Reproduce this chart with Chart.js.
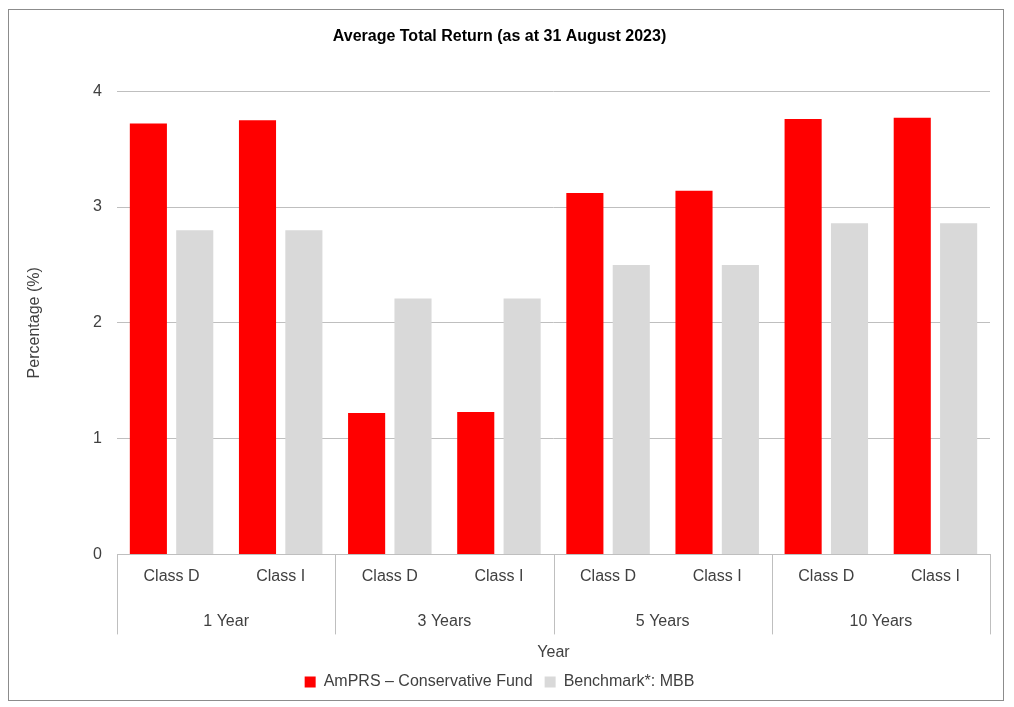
<!DOCTYPE html>
<html>
<head>
<meta charset="utf-8">
<script src="https://cdn.jsdelivr.net/npm/chart.js@4.4.0/dist/chart.umd.min.js"></script>
<style>
  body { margin: 0; background: #fff; }
  #wrap {
    position: absolute; left: 8px; top: 9px;
    width: 994px; height: 690px;
    border: 1px solid #8c8c8c;
  }
</style>
</head>
<body>
<div id="wrap"><canvas id="returnChart"></canvas></div>
<script>
// Chart data
const classes = ['Class D', 'Class I', 'Class D', 'Class I', 'Class D', 'Class I', 'Class D', 'Class I'];
const periods = ['1 Year', '3 Years', '5 Years', '10 Years'];
const fundReturns = [3.72, 3.75, 1.22, 1.23, 3.12, 3.14, 3.76, 3.77];
const benchmarkReturns = [2.80, 2.80, 2.21, 2.21, 2.50, 2.50, 2.86, 2.86];

const textColor = '#404040';
const lineColor = '#bfbfbf';
Chart.defaults.font.family = '"Liberation Sans", Arial, sans-serif';
Chart.defaults.font.size = 16;
Chart.defaults.color = textColor;

// vertical separators between the period groups, below the x axis
const groupLines = {
    id: 'groupLines',
    afterDraw(chart) {
        const x = chart.scales.x;
        const ctx = chart.ctx;
        const step = x.width / classes.length;
        ctx.save();
        ctx.strokeStyle = lineColor;
        ctx.lineWidth = 1;
        for (let g = 0; g <= periods.length; g++) {
            const px = Math.round(x.left + g * step * 2) + 0.5;
            ctx.beginPath();
            ctx.moveTo(px, x.top);
            ctx.lineTo(px, x.top + 80);
            ctx.stroke();
        }
        ctx.restore();
    }
};

const ctx = document.getElementById('returnChart').getContext('2d');
new Chart(ctx, {
    type: 'bar',
    data: {
        labels: classes,
        datasets: [
            {
                label: 'AmPRS \u2013 Conservative Fund',
                data: fundReturns,
                backgroundColor: '#ff0000'
            },
            {
                label: 'Benchmark*: MBB',
                data: benchmarkReturns,
                backgroundColor: '#d9d9d9'
            }
        ]
    },
    options: {
        responsive: true,
        maintainAspectRatio: false,
        animation: false,
        categoryPercentage: 0.85,
        barPercentage: 0.8,
        layout: { padding: { top: 0, right: 13, bottom: 0, left: 0 } },
        plugins: {
            title: {
                display: true,
                text: 'Average Total Return (as at 31 August 2023)',
                color: '#000',
                font: { size: 16, weight: 'bold' },
                padding: { top: 17, bottom: 45 }
            },
            legend: {
                position: 'bottom',
                labels: {
                    boxWidth: 11,
                    boxHeight: 11,
                    padding: 12,
                    font: { size: 16 }
                }
            },
            tooltip: { enabled: false }
        },
        scales: {
            x: {
                grid: { display: false },
                border: { display: true, color: lineColor },
                ticks: { padding: 5, maxRotation: 0 }
            },
            x2: {
                type: 'category',
                labels: periods,
                position: 'bottom',
                offset: true,
                grid: { display: false },
                border: { display: false },
                ticks: { padding: 12 },
                title: {
                    display: true,
                    text: 'Year',
                    padding: { top: 0, bottom: 0 }
                }
            },
            y: {
                min: 0,
                max: 4,
                ticks: { stepSize: 1, padding: 15 },
                grid: { color: lineColor, drawTicks: false },
                border: { display: false },
                title: {
                    display: true,
                    text: 'Percentage (%)',
                    padding: { top: 16, bottom: 0 }
                },
                afterFit(scale) { scale.width = 108; }
            }
        }
    },
    plugins: [groupLines]
});
</script>
</body>
</html>
